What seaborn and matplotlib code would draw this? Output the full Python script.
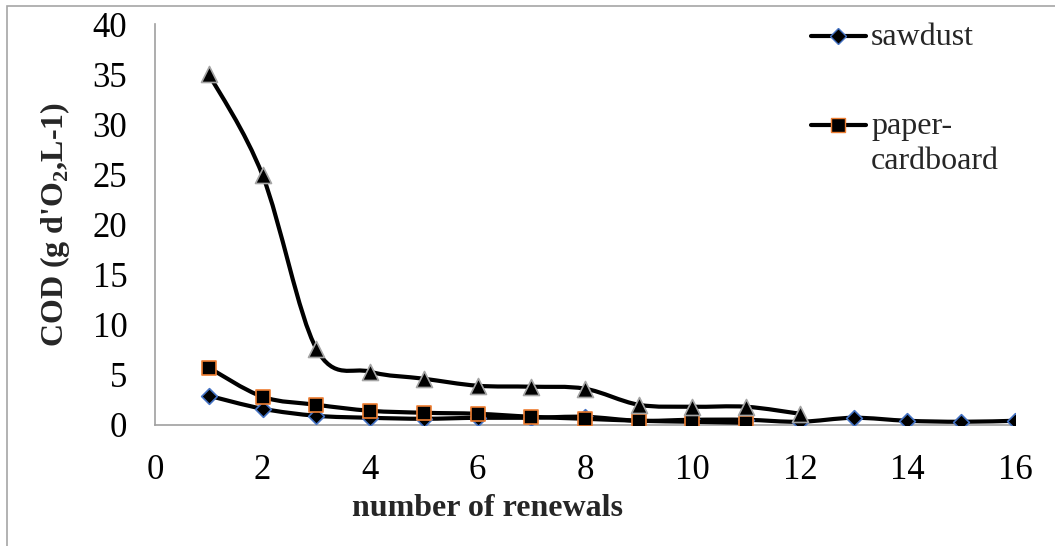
import numpy as np
import pandas as pd
import seaborn as sns
import matplotlib.pyplot as plt
from matplotlib.path import Path
from matplotlib.patches import PathPatch, Rectangle
from matplotlib.lines import Line2D

# values
renewals_sawdust = list(range(1, 17))
cod_sawdust = [2.9, 1.6, 0.9, 0.7, 0.6, 0.7, 0.7, 0.8, 0.4, 0.5, 0.5, 0.3, 0.7, 0.4, 0.3, 0.4]

renewals_paper = list(range(1, 12))
cod_paper = [5.7, 2.8, 2.0, 1.4, 1.2, 1.1, 0.8, 0.6, 0.4, 0.3, 0.2]

renewals_third = list(range(1, 13))
cod_third = [35.0, 24.9, 7.6, 5.3, 4.6, 3.9, 3.8, 3.6, 2.0, 1.8, 1.8, 1.1]

legend_labels = ['sawdust', 'paper-\ncardboard']


def smooth_path(x, y):
    # Excel-like smoothed line: Catmull-Rom spline as cubic Bezier segments
    pts = np.column_stack([x, y]).astype(float)
    n = len(pts)
    verts = [pts[0]]
    codes = [Path.MOVETO]
    for i in range(n - 1):
        p0 = pts[i - 1] if i > 0 else pts[i]
        p1 = pts[i]
        p2 = pts[i + 1]
        p3 = pts[i + 2] if i + 2 < n else pts[i + 1]
        c1 = p1 + (p2 - p0) / 6
        c2 = p2 - (p3 - p1) / 6
        verts += [c1, c2, p2]
        codes += [Path.CURVE4] * 3
    return Path(verts, codes)


def main():
    sns.set_theme(style='white')
    plt.rcParams['font.family'] = ['Liberation Serif', 'DejaVu Serif']
    plt.rcParams['mathtext.fontset'] = 'custom'
    plt.rcParams['mathtext.bf'] = 'Liberation Serif:bold'
    plt.rcParams['mathtext.rm'] = 'Liberation Serif'

    fig, ax = plt.subplots(figsize=(10.55, 5.46), dpi=100)
    fig.subplots_adjust(left=0.147, right=0.962, top=0.956, bottom=0.222)

    series = [
        (renewals_sawdust, cod_sawdust, 'D', '#4472C4', 8),
        (renewals_paper, cod_paper, 's', '#ED7D31', 10),
        (renewals_third, cod_third, '^', '#A5A5A5', 11.5),
    ]
    for z, (x, y, marker, edge, size) in enumerate(series):
        ax.add_patch(PathPatch(smooth_path(x, y), fill=False, ec='black',
                               lw=3, zorder=2 + 2 * z, capstyle='round'))
        df = pd.DataFrame({'x': x, 'y': y})
        sns.scatterplot(data=df, x='x', y='y', ax=ax, marker=marker, color='black',
                        edgecolor=edge, linewidth=1.2, s=size ** 2, zorder=3 + 2 * z)

    ax.set_xlim(0, 16)
    ax.set_ylim(0, 40)
    ax.set_xticks(range(0, 17, 2))
    ax.set_yticks(range(0, 41, 5))
    ax.tick_params(axis='both', length=0, labelsize=25, colors='black')
    ax.tick_params(axis='x', pad=21)
    ax.tick_params(axis='y', pad=20)

    for side in ['top', 'right']:
        ax.spines[side].set_visible(False)
    for side in ['left', 'bottom']:
        ax.spines[side].set_color('#A0A0A0')
        ax.spines[side].set_linewidth(1.2)

    ax.set_xlabel('number of renewals', fontsize=23, fontweight='bold')
    ax.xaxis.set_label_coords(0.387, -0.172)
    ax.set_ylabel("COD (g d'O$_\\mathbf{2}$,L-1)", fontsize=23, fontweight='bold', labelpad=15)

    handles = [
        Line2D([], [], color='black', lw=3, marker='D', markersize=8,
               markerfacecolor='black', markeredgecolor='#4472C4'),
        Line2D([], [], color='black', lw=3, marker='s', markersize=10,
               markerfacecolor='black', markeredgecolor='#ED7D31'),
    ]
    leg = fig.legend(handles, legend_labels, loc='upper left',
                     bbox_to_anchor=(0.741, 1.01), frameon=False, fontsize=23,
                     handlelength=1.75, handleheight=1.0, handletextpad=0.15,
                     labelspacing=1.88)
    # put the marker next to the first line of a wrapped label, like Excel
    for column in leg._legend_handle_box.get_children():
        for item in column.get_children():
            item.align = 'top'
    for txt in leg.get_texts():
        txt.set_linespacing(1.25)

    fig.patches.append(Rectangle((0.0066, -0.5), 2, 1.489, transform=fig.transFigure,
                                 fill=False, ec='#A6A6A6', lw=1.2))

    fig.savefig('out.png', dpi=100)


if __name__ == '__main__':
    main()
